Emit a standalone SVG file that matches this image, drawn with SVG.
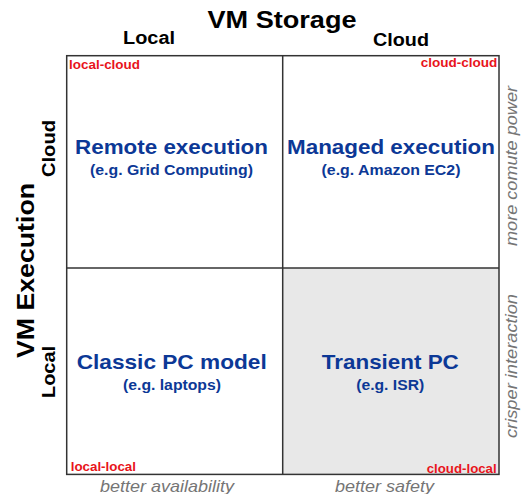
<svg xmlns="http://www.w3.org/2000/svg" width="523" height="494" viewBox="0 0 523 494">
<style>
text{font-family:"Liberation Sans",Arial,sans-serif}
.ax{font-weight:bold;fill:#000;text-anchor:middle}
.corner{font-weight:bold;fill:#e8141b;font-size:13px}
.title{font-weight:bold;fill:#0c3896;font-size:20.5px;text-anchor:middle}
.sub{font-weight:bold;fill:#0c3896;font-size:14px;text-anchor:middle}
.note{font-style:italic;fill:#757575;font-size:17px;text-anchor:middle}
.grid{stroke:#333;stroke-width:1.5;fill:none}
</style>
<rect x="0" y="0" width="523" height="494" fill="#fff"/>
<g id="axes">
<text class="ax" x="282" y="28" font-size="23" textLength="149" lengthAdjust="spacingAndGlyphs">VM Storage</text>
<text class="ax" x="149" y="44" font-size="18" textLength="52" lengthAdjust="spacingAndGlyphs">Local</text>
<text class="ax" x="401" y="46" font-size="18" textLength="56" lengthAdjust="spacingAndGlyphs">Cloud</text>
<text class="ax" transform="translate(34,270.5) rotate(-90)" font-size="23" textLength="175" lengthAdjust="spacingAndGlyphs">VM Execution</text>
<text class="ax" transform="translate(55,148.5) rotate(-90)" font-size="18" textLength="57" lengthAdjust="spacingAndGlyphs">Cloud</text>
<text class="ax" transform="translate(55,372) rotate(-90)" font-size="18" textLength="52" lengthAdjust="spacingAndGlyphs">Local</text>
</g>
<g id="q-cloud-local-bg">
<rect x="283" y="268" width="216" height="206" fill="#e8e8e8"/>
</g>
<g id="connectors">
<rect class="grid" x="66.7" y="55.7" width="432.3" height="418.7"/>
<line class="grid" x1="282.7" y1="55.7" x2="282.7" y2="474.4"/>
<line class="grid" x1="66.7" y1="268" x2="499" y2="268"/>
</g>
<g id="q-local-cloud">
<text class="corner" x="69" y="69" textLength="71" lengthAdjust="spacingAndGlyphs">local-cloud</text>
<text class="title" x="171.5" y="154" textLength="193" lengthAdjust="spacingAndGlyphs">Remote execution</text>
<text class="sub" x="171.5" y="175" textLength="163" lengthAdjust="spacingAndGlyphs">(e.g. Grid Computing)</text>
</g>
<g id="q-cloud-cloud">
<text class="corner" x="497.3" y="66.7" text-anchor="end" textLength="76.6" lengthAdjust="spacingAndGlyphs">cloud-cloud</text>
<text class="title" x="391" y="154" textLength="208" lengthAdjust="spacingAndGlyphs">Managed execution</text>
<text class="sub" x="391" y="175" textLength="139" lengthAdjust="spacingAndGlyphs">(e.g. Amazon EC2)</text>
</g>
<g id="q-local-local">
<text class="corner" x="70.7" y="470.7" textLength="65.3" lengthAdjust="spacingAndGlyphs">local-local</text>
<text class="title" x="171.7" y="369.3" textLength="190" lengthAdjust="spacingAndGlyphs">Classic PC model</text>
<text class="sub" x="172" y="390" textLength="98" lengthAdjust="spacingAndGlyphs">(e.g. laptops)</text>
</g>
<g id="q-cloud-local">
<text class="corner" x="496.7" y="472.7" text-anchor="end" textLength="70" lengthAdjust="spacingAndGlyphs">cloud-local</text>
<text class="title" x="390.3" y="369.3" textLength="137" lengthAdjust="spacingAndGlyphs">Transient PC</text>
<text class="sub" x="390.2" y="390" textLength="68" lengthAdjust="spacingAndGlyphs">(e.g. ISR)</text>
</g>
<g id="notes">
<text class="note" x="167" y="491.5" textLength="134" lengthAdjust="spacingAndGlyphs">better availability</text>
<text class="note" x="384.5" y="491.5" textLength="99" lengthAdjust="spacingAndGlyphs">better safety</text>
<text class="note" transform="translate(517,166) rotate(-90)" textLength="160" lengthAdjust="spacingAndGlyphs">more comute power</text>
<text class="note" transform="translate(517,366) rotate(-90)" textLength="144" lengthAdjust="spacingAndGlyphs">crisper interaction</text>
</g>
</svg>
